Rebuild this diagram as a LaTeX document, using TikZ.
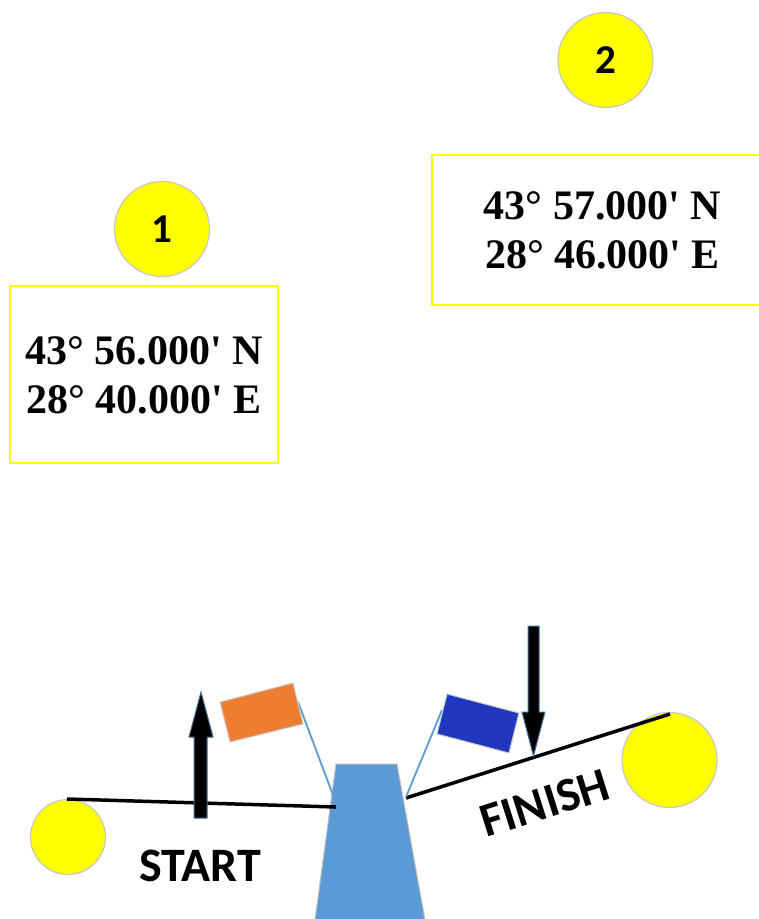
\documentclass[tikz,border=0pt]{standalone}
\usepackage{fontspec}
\newfontfamily\coordfont{Liberation Serif}
\newfontfamily\calfont{Carlito}
\begin{document}
\begin{tikzpicture}[x=1pt,y=-1pt,
  ball/.style={circle,fill=markyellow,draw=black!22,line width=1.2pt,minimum size=#1,inner sep=0pt},
  coordbox/.style={draw=markyellow,line width=2pt},
  coordtext/.style={font=\coordfont\bfseries\fontsize{42}{49}\selectfont,align=center,inner sep=0pt},
  numtext/.style={font=\calfont\bfseries\fontsize{41}{43}\selectfont},
  lbl/.style={font=\calfont\bfseries\fontsize{48}{50}\selectfont,inner sep=0pt},
  track/.style={line width=3.5pt,black},
  pole/.style={draw=boatblue,line width=1.8pt},
  bigarrow/.style={fill=black,draw={rgb,255:red,65;green,113;blue,156},line width=1pt}
]
\definecolor{markyellow}{RGB}{255,255,0}
\definecolor{flagorange}{RGB}{237,125,49}
\definecolor{flagblue}{RGB}{32,56,192}
\definecolor{boatblue}{RGB}{91,155,213}
\useasboundingbox (0,0) rectangle (759,919);
\clip (0,0) rectangle (759,919);

% mark 1
\node[ball=95pt] (m1) at (162,229) {};
\node[numtext] at (m1) {1};
\draw[coordbox] (10,286) rectangle (278,463);
\node[coordtext] (c1) at (144,375) {43° 56.000' N\\28° 40.000' E};

% mark 2
\node[ball=95pt] (m2) at (605.5,60) {};
\node[numtext] at (m2) {2};
\draw[coordbox] (432,155) rectangle (790,305);
\node[coordtext] (c2) at (602.5,230) {43° 57.000' N\\28° 46.000' E};

% committee boat
\fill[boatblue,draw=black!25,line width=1pt] (315,920) -- (336,764) -- (397,764) -- (425,920) -- cycle;
\coordinate (b1) at (336,807);
\coordinate (b2) at (406,798);

% start
\node[ball=75pt] (sb) at (68,837) {};
\coordinate (sbtop) at (67,799);
\draw[track] (sbtop) -- (b1);
\node[lbl] (st) at (200,866) {START};
\draw[bigarrow] (194,818) -- (194,737) -- (189,737) -- (201,692) -- (213,737) -- (207,737) -- (207,818) -- cycle;

% orange flag
\coordinate (of) at (298,702);
\draw[pole] (of) -- (333,795);
\fill[flagorange,draw=black!20,line width=1pt] (220,702) -- (293,683) -- (303,724) -- (230,742) -- cycle;

% finish
\node[ball=95pt] (fb) at (669.5,760) {};
\coordinate (fbtop) at (670,714);
\draw[track] (b2) -- (fbtop);
\node[lbl,rotate=17.6] (fi) at (545,803) {FINISH};
\draw[bigarrow] (528,626) -- (528,712) -- (522,712) -- (533.5,756) -- (545,712) -- (539,712) -- (539,626) -- cycle;

% blue flag
\draw[pole] (406,797) -- (442,710);
\fill[flagblue,draw=black!20,line width=1pt] (447,694) -- (519,713) -- (509,753) -- (437,734) -- cycle;
\end{tikzpicture}
\end{document}
